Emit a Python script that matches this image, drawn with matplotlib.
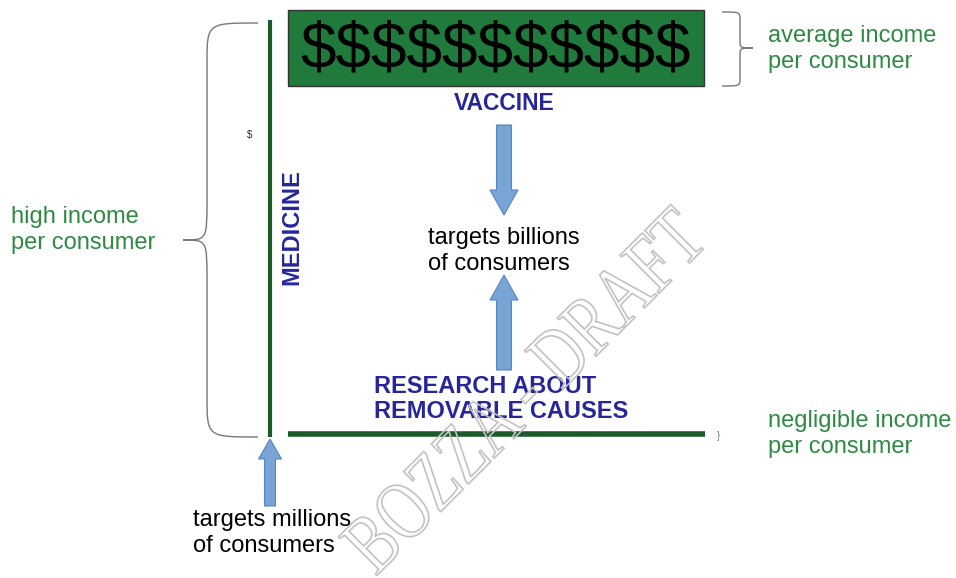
import matplotlib.pyplot as plt
from matplotlib.patches import Rectangle, FancyArrow, PathPatch
from matplotlib.path import Path
from matplotlib.textpath import TextPath
from matplotlib.font_manager import FontProperties
from matplotlib.transforms import Affine2D

# labels of the diagram
top_block = "$" * 11
top_label = "VACCINE"
bottom_label = "RESEARCH ABOUT\nREMOVABLE CAUSES"
side_label = "MEDICINE"
centre_text = "targets billions\nof consumers"
corner_text = "targets millions\nof consumers"
income_labels = ["average income\nper consumer", "high income\nper consumer",
                 "negligible income\nper consumer"]
watermark = "BOZZA - DRAFT"

NAVY = "#26269a"
GREEN_TXT = "#2e8a43"
GREEN_LINE = "#1c5a2c"
ARROW_FC = "#78a4d6"
ARROW_EC = "#5685bf"
SANS = "Liberation Sans"


def brace(ax, x_end, x_spine, x_tip, y0, y1, y_tip, r):
    """Curly brace drawn with bezier curves; tip points towards x_tip."""
    verts = [
        (x_end, y0),
        (x_spine, y0), (x_spine, y0), (x_spine, y0 + r),
        (x_spine, y_tip - r),
        (x_spine, y_tip), (x_spine, y_tip), (x_tip, y_tip),
        (x_spine, y_tip), (x_spine, y_tip), (x_spine, y_tip + r),
        (x_spine, y1 - r),
        (x_spine, y1), (x_spine, y1), (x_end, y1),
    ]
    codes = [Path.MOVETO,
             Path.CURVE4, Path.CURVE4, Path.CURVE4,
             Path.LINETO,
             Path.CURVE4, Path.CURVE4, Path.CURVE4,
             Path.CURVE4, Path.CURVE4, Path.CURVE4,
             Path.LINETO,
             Path.CURVE4, Path.CURVE4, Path.CURVE4]
    ax.add_patch(PathPatch(Path(verts, codes), fc="none", ec="#777777", lw=1.0))


fig = plt.figure(figsize=(9.56, 5.78), dpi=100)
ax = fig.add_axes([0, 0, 1, 1])
ax.set_xlim(0, 956)
ax.set_ylim(578, 0)
ax.axis("off")

# green "money" box
ax.add_patch(Rectangle((288, 10), 416, 76, fc="#1f7a3b", ec="#333333", lw=1))
ax.text(496, 50, top_block, fontsize=46, family=SANS, color="black",
        ha="center", va="center")
ax.text(504, 103, top_label, fontsize=16.5, family=SANS, weight="bold",
        color=NAVY, ha="center", va="center")

# axes lines
ax.plot([270, 270], [20, 437], color=GREEN_LINE, lw=3, solid_capstyle="butt")
ax.plot([288, 705], [434, 434], color=GREEN_LINE, lw=4, solid_capstyle="butt")

ax.text(292, 227, side_label, fontsize=17, family=SANS, weight="bold",
        color=NAVY, rotation=90, ha="center", va="center")
ax.text(250, 135, "$", fontsize=7, family=SANS, color="#333333",
        ha="center", va="center")
ax.text(718, 436, "}", fontsize=7, family=SANS, color="#777777",
        ha="center", va="center")

# arrows
ax.add_patch(FancyArrow(504, 125, 0, 90, width=15, head_width=28,
                        head_length=25, length_includes_head=True,
                        fc=ARROW_FC, ec=ARROW_EC, lw=0.8))
ax.add_patch(FancyArrow(504, 370, 0, -95, width=15, head_width=28,
                        head_length=25, length_includes_head=True,
                        fc=ARROW_FC, ec=ARROW_EC, lw=0.8))
ax.add_patch(FancyArrow(270, 506, 0, -67, width=11, head_width=23,
                        head_length=20, length_includes_head=True,
                        fc=ARROW_FC, ec=ARROW_EC, lw=0.8))

ax.text(428, 251, centre_text, fontsize=17, family=SANS, color="black",
        ha="left", va="center", linespacing=1.25)
ax.text(374, 399, bottom_label, fontsize=17, family=SANS, weight="bold",
        color=NAVY, ha="left", va="center", linespacing=1.15)
ax.text(193, 533, corner_text, fontsize=17, family=SANS, color="black",
        ha="left", va="center", linespacing=1.25)

# income labels and braces
ax.text(768, 49, income_labels[0], fontsize=17, family=SANS, color=GREEN_TXT,
        ha="left", va="center", linespacing=1.25)
ax.text(11, 230, income_labels[1], fontsize=17, family=SANS, color=GREEN_TXT,
        ha="left", va="center", linespacing=1.25)
ax.text(768, 434, income_labels[2], fontsize=17, family=SANS, color=GREEN_TXT,
        ha="left", va="center", linespacing=1.25)

brace(ax, 258, 207, 183, 23, 437, 240, 40)
brace(ax, 722, 740, 753, 12, 86, 48, 8)

# watermark: condensed outlined serif text
tp = TextPath((0, 0), watermark, size=1,
              prop=FontProperties(family="Liberation Serif"))
bb = tp.get_extents()
tr = (Affine2D()
      .translate(-(bb.x0 + bb.width / 2), -(bb.y0 + bb.height / 2))
      .scale(470 / bb.width, 56 / bb.height)
      .rotate_deg(45)
      .scale(1, -1)
      .translate(524, 390))
ax.add_patch(PathPatch(tr.transform_path(tp), fc="none", ec="#c2c2c2",
                       lw=1.2, zorder=5))

fig.savefig("out.png", dpi=100)
